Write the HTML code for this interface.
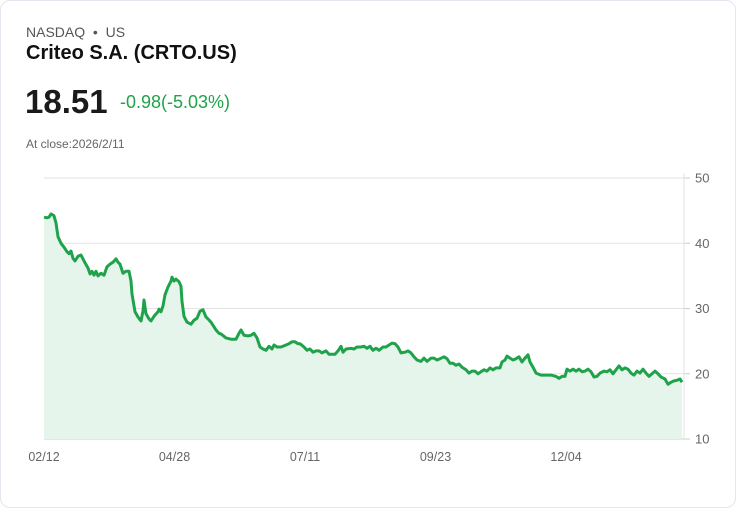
<!DOCTYPE html>
<html><head><meta charset="utf-8"><style>
body{margin:0;background:#fff;font-family:"Liberation Sans",sans-serif;}
.card{position:absolute;left:0;top:0;width:734px;height:506px;border:1px solid #e3e6ee;border-radius:10px;background:#fff;}
.t{position:absolute;white-space:nowrap;}
</style></head><body>
<div class="card">
<div class="t" style="left:25px;top:23px;font-size:14px;color:#555;">NASDAQ&nbsp; •&nbsp; US</div>
<div class="t" style="left:25px;top:41px;font-size:20px;font-weight:bold;color:#111;">Criteo S.A. (CRTO.US)</div>
<div class="t" style="left:24px;top:82px;font-size:33px;font-weight:bold;color:#1a1a1a;">18.51</div>
<div class="t" style="left:119px;top:91px;font-size:18px;color:#1fa34a;">-0.98(-5.03%)</div>
<div class="t" style="left:25px;top:136px;font-size:12px;color:#666;">At close:2026/2/11</div>
<svg id="chart" width="736" height="508" style="position:absolute;left:0;top:0"></svg>
</div>
<script>
const yTicks=[10,20,30,40,50];
const xLabels=["02/12","04/28","07/11","09/23","12/04"];
const xLabelDays=[0,65.25,130.5,195.75,261];
const days=[0,1.5,2.5,3.5,5,6,7,8.5,10,11.5,12.5,13.5,14.5,15.5,17,18.5,19.5,20.5,22,23,24,25,26,27,28.5,30,31.5,33,34.5,36,37,38,39.5,41,42.5,43.5,44,45.5,47,48.5,49.5,50,51,52.5,53.5,55,57,57.5,58.5,59.5,60.5,62,63.5,64,65,66,67.5,68.5,69,70,71.5,73.5,75,76.5,78,79.5,81,82,83.5,85,86,87.5,88.5,91,93.5,96,97.5,98.5,100,102,103.5,105,106.5,108,109.5,111,112.5,114,115,116.5,118.5,121,122.5,124,125.5,127,128,130,131.5,133,134.5,136,137.5,139,141,142.5,144,145.5,147,148.5,149.5,151,153.5,155,156.5,158.5,160,161.5,163,164.5,166,167.5,169.5,171,172.5,174,175.5,177,178.5,180.5,182,183.5,185,186.5,188.5,190,191.5,193.5,195,196.5,198,200,201.5,203,204.5,206,207.5,209,211,212.5,214,215.5,217,218.5,220,221.5,223,224.5,226,228,229,230.5,231.5,233,234.5,236,237.5,239,240.5,242,243,244.5,246,248.5,251,253.5,256,257.5,259,260.5,261.5,263,264.5,266,267.5,269,270.5,272,273.5,275,276.5,278,280,281.5,283,284.5,286,287.5,289,290.5,292,293.5,295,296.5,298,299.5,301,302.5,304,305.5,307,308.5,310.5,312,313.5,315,316.5,318,319];
const prices=[44.0,43.9,44.0,44.5,44.2,43.1,41.0,40.0,39.4,38.7,38.4,38.8,37.7,37.3,38.0,38.2,37.6,37.0,36.2,35.3,35.7,35.1,35.7,35.0,35.4,35.1,36.4,36.8,37.1,37.6,37.1,36.8,35.4,35.7,35.7,34.2,32.2,29.5,28.7,28.1,29.6,31.3,29.2,28.4,28.1,28.8,29.5,29.9,29.5,30.4,32.1,33.3,34.2,34.8,34.2,34.5,34.1,33.4,31.1,28.8,27.9,27.6,28.2,28.5,29.6,29.8,28.7,28.4,27.9,27.2,26.7,26.2,26.1,25.5,25.3,25.3,26.2,26.7,25.9,25.8,25.9,26.2,25.5,24.1,23.8,23.6,24.2,23.8,24.4,24.1,24.1,24.4,24.6,24.9,24.9,24.6,24.6,24.1,23.6,23.8,23.3,23.5,23.5,23.2,23.5,23.0,23.0,23.0,23.5,24.2,23.3,23.8,23.9,23.8,24.1,24.1,24.2,23.9,24.2,23.6,23.9,23.6,24.1,24.1,24.4,24.7,24.6,24.1,23.2,23.3,23.5,23.2,22.6,22.1,21.9,22.4,21.9,22.4,22.4,22.1,22.3,22.6,22.3,21.6,21.6,21.3,21.5,21.0,20.6,20.1,20.4,20.4,20.0,20.3,20.6,20.4,20.9,20.6,20.9,20.9,21.8,22.1,22.7,22.4,22.1,22.3,22.6,21.8,22.4,22.9,21.8,21.0,20.1,19.8,19.8,19.8,19.6,19.3,19.6,19.6,20.7,20.4,20.7,20.4,20.7,20.3,20.4,20.7,20.3,19.5,19.6,20.1,20.4,20.3,20.6,20.0,20.6,21.2,20.6,20.9,20.7,20.1,19.8,20.4,20.1,20.7,20.1,19.6,20.0,20.4,20.0,19.5,19.2,18.4,18.7,18.9,19.0,19.2,18.7,18.5];
const NS="http://www.w3.org/2000/svg";
const svg=document.getElementById('chart');
const X0=43,X1=683,Y0=438,Y1=177,DMAX=320;
const xs=d=>X0+d/DMAX*(X1-X0);
const ys=v=>Y0-(v-10)/40*(Y0-Y1);
function mk(t,a){const e=document.createElementNS(NS,t);for(const k in a)e.setAttribute(k,a[k]);svg.appendChild(e);return e;}
yTicks.forEach(v=>{
 const g=mk('line',{x1:X0,x2:X1,y1:ys(v),y2:ys(v),stroke:v===10?'#ccc':'#e3e3e3','stroke-width':1});
 
 
 mk('line',{x1:X1,x2:X1+6,y1:ys(v),y2:ys(v),stroke:'#ccc'});
 const t=mk('text',{x:694,y:ys(v)+4.5,'font-size':13,fill:'#666','font-family':'Liberation Sans, sans-serif'});
 t.textContent=v;
 
 
});
mk('line',{x1:X1,x2:X1,y1:Y1-5,y2:Y0,stroke:'#e3e3e3'});
xLabels.forEach((l,k)=>{
 const t=mk('text',{x:xs(xLabelDays[k]),y:460,'font-size':12.5,fill:'#666','text-anchor':'middle','font-family':'Liberation Sans, sans-serif'});
 t.textContent=l;
 
 
});
const n=Math.min(days.length,prices.length);
let pts=[];
for(let i=0;i<n;i++)pts.push((i?'L':'M')+xs(days[i]).toFixed(1)+','+ys(prices[i]).toFixed(1));
const d=pts.join('');
const area=mk('path',{d:d+`L${xs(days[n-1])},${Y0}L${X0},${Y0}Z`,fill:'#e6f5ec'});


const line=mk('path',{d:d,fill:'none',stroke:'#1fa34a','stroke-width':3,'stroke-linejoin':'round'});


</script>
</body></html>
